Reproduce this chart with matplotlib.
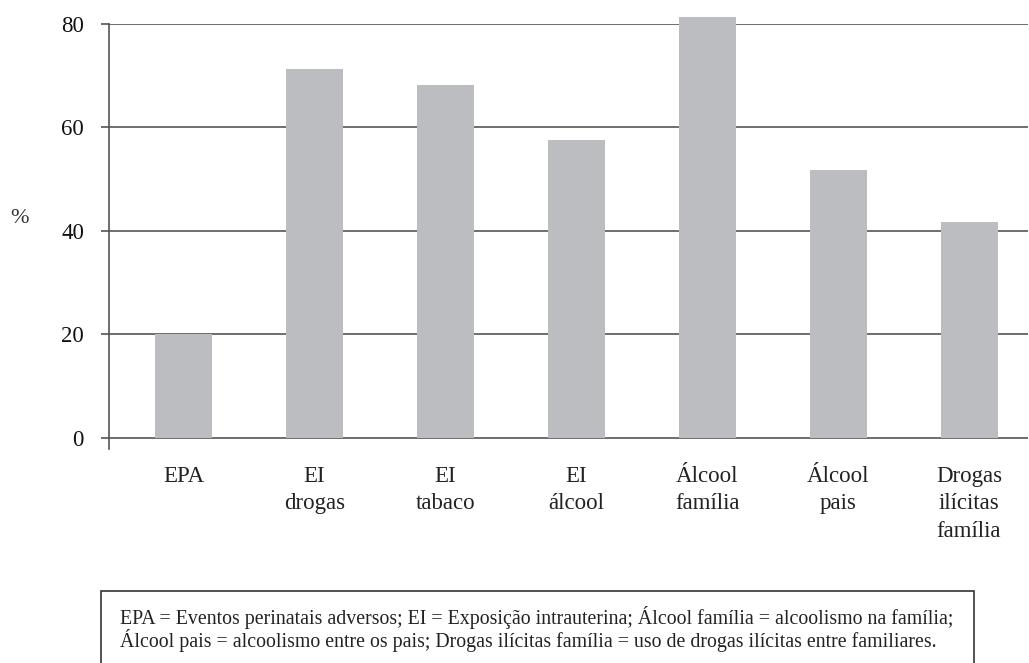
import matplotlib
matplotlib.use("Agg")
import matplotlib.pyplot as plt
from matplotlib.patches import Rectangle

# Data
categories = ["EPA", "EI\ndrogas", "EI\ntabaco", "EI\nálcool",
              "Álcool\nfamília", "Álcool\npais", "Drogas\nilícitas\nfamília"]
values = [20.1, 71.2, 68.1, 57.5, 81.3, 51.8, 41.7]
yticks = [0, 20, 40, 60, 80]
note = ("EPA = Eventos perinatais adversos; EI = Exposição intrauterina; "
        "Álcool família = alcoolismo na família;\n"
        "Álcool pais = alcoolismo entre os pais; Drogas ilícitas família = "
        "uso de drogas ilícitas entre familiares.")

plt.rcParams['font.family'] = ['Liberation Serif', 'DejaVu Serif']

fig = plt.figure(figsize=(10.29, 6.63), dpi=100)
ax = fig.add_axes([0.1059, 0.3228, 0.8931, 0.6415])

x = range(len(categories))
ax.bar(x, values, width=0.435, color='#bcbdc0', zorder=2, clip_on=False)

for t in yticks:
    ax.axhline(t, color='#555555', lw=1.2, zorder=1)

ax.set_xlim(-0.57, 6.45)
ax.set_ylim(-2.1, 80)
ax.set_yticks(yticks)
ax.tick_params(axis='y', length=6, width=1.2, color='#555555', pad=12,
               labelsize=16.5, labelcolor='#111111')
ax.tick_params(axis='x', length=0, pad=12, labelsize=16.5)
ax.set_xticks(list(x))
ax.set_xticklabels(categories, linespacing=1.42, color='#222222')

for s in ['top', 'right', 'bottom']:
    ax.spines[s].set_visible(False)
ax.spines['left'].set_color('#555555')
ax.spines['left'].set_linewidth(1.2)

fig.text(0.019, 1 - 219 / 663, "%", fontsize=16, color='#333333', va='center', ha='center')

# footnote box
box = Rectangle((101 / 1029, -0.05), (974 - 101) / 1029, 0.05 + (663 - 591) / 663,
                transform=fig.transFigure, fill=False, edgecolor='#333333', lw=1.2)
fig.patches.append(box)
fig.text(120 / 1029, 1 - 629 / 663, note, fontsize=14.3, linespacing=1.0,
         va='center', ha='left', color='#222222')

fig.savefig("out.png", dpi=100)
